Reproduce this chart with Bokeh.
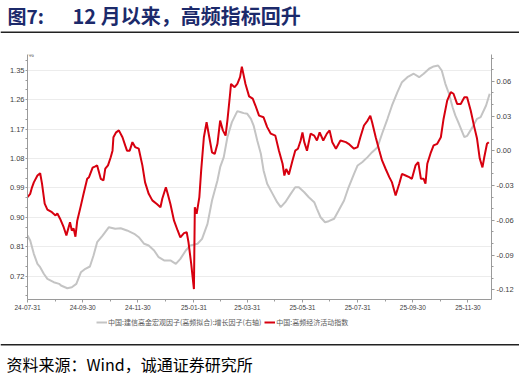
import pandas as pd
from bokeh.plotting import figure
from bokeh.layouts import column
from bokeh.models import (Range1d, LinearAxis, FixedTicker, NumeralTickFormatter,
                          DatetimeTickFormatter, Legend, LegendItem, Label, Span)
from bokeh.embed import file_html
from bokeh.resources import INLINE

# ---------------- data ----------------
start_date = "2024-07-31"          # day 0 of the series
x_end_date = "2025-12-26"

x_tick_dates = ["2024-07-31", "2024-09-30", "2024-11-30", "2025-01-31", "2025-03-31",
                "2025-05-31", "2025-07-31", "2025-09-30", "2025-11-30"]
x_minor_dates = ["2024-08-31", "2024-10-31", "2024-12-31", "2025-03-01", "2025-04-30",
                 "2025-06-30", "2025-08-31", "2025-10-31"]

left_ticks = [0.72, 0.81, 0.90, 0.99, 1.08, 1.17, 1.26, 1.35]
left_minor = [0.66, 0.69, 0.75, 0.78, 0.84, 0.87, 0.93, 0.96, 1.02, 1.05, 1.11, 1.14,
              1.20, 1.23, 1.29, 1.32, 1.38]
right_ticks = [-0.12, -0.09, -0.06, -0.03, 0.00, 0.03, 0.06]
right_minor = [-0.13, -0.11, -0.10, -0.08, -0.07, -0.05, -0.04, -0.02, -0.01,
               0.01, 0.02, 0.04, 0.05, 0.07, 0.08]

red_name = "中国:高频经济活动指数"
gray_name = "中国:建信高金宏观因子(高频拟合):增长因子(右轴)"

# days since start_date
red_days = [0, 3, 5, 7, 11, 14, 16, 19, 22, 27,
            31, 33, 36, 40, 43, 47, 49, 51, 53, 55,
            59, 62, 66, 68, 72, 75, 77, 81, 84, 86,
            89, 92, 94, 95, 98, 101, 105, 108, 110, 113,
            116, 119, 123, 127, 130, 134, 138, 143, 147, 149,
            153, 155, 158, 162, 166, 169, 173, 176, 178, 181,
            184, 185, 187, 190, 192, 195, 198, 201, 204, 207,
            210, 213, 216, 219, 221, 224, 225, 229, 232, 235,
            237, 241, 245, 249, 252, 256, 261, 265, 269, 274,
            278, 282, 284, 286, 289, 293, 296, 299, 302, 304,
            306, 309, 313, 317, 320, 323, 327, 331, 334, 337,
            341, 346, 352, 355, 361, 365, 368, 372, 376, 379,
            381, 385, 389, 392, 396, 400, 403, 407, 411, 414,
            418, 422, 425, 429, 432, 435, 438, 440, 442, 446,
            449, 453, 457, 460, 464, 468, 471, 475, 479, 483,
            486, 490, 494, 497, 500, 503, 505, 508, 510]
red_vals = [0.962, 0.972, 0.992, 1.007, 1.028, 1.035, 1.004, 0.942, 0.924, 0.916,
            0.906, 0.912, 0.896, 0.870, 0.845, 0.885, 0.860, 0.866, 0.841, 0.890,
            0.936, 0.972, 1.018, 1.023, 1.052, 1.056, 1.059, 1.018, 1.013, 1.049,
            1.059, 1.084, 1.104, 1.145, 1.160, 1.166, 1.145, 1.120, 1.104, 1.104,
            1.130, 1.115, 1.110, 1.059, 1.007, 0.972, 0.952, 0.941, 0.931, 0.957,
            0.992, 0.972, 0.941, 0.890, 0.860, 0.839, 0.852, 0.855, 0.824, 0.758,
            0.681, 0.931, 0.911, 0.962, 1.043, 1.145, 1.191, 1.145, 1.099, 1.094,
            1.125, 1.196, 1.166, 1.150, 1.196, 1.278, 1.308, 1.298, 1.308, 1.329,
            1.361, 1.308, 1.270, 1.263, 1.242, 1.211, 1.206, 1.176, 1.156, 1.150,
            1.104, 1.064, 1.028, 1.048, 1.031, 1.074, 1.104, 1.110, 1.135, 1.160,
            1.130, 1.104, 1.156, 1.150, 1.135, 1.160, 1.135, 1.156, 1.166, 1.130,
            1.110, 1.135, 1.130, 1.125, 1.110, 1.115, 1.145, 1.181, 1.196, 1.211,
            1.191, 1.145, 1.104, 1.074, 1.048, 1.023, 1.007, 0.967, 1.003, 1.033,
            1.028, 1.023, 1.018, 1.059, 1.069, 1.018, 1.018, 1.003, 1.064, 1.099,
            1.120, 1.125, 1.145, 1.201, 1.257, 1.283, 1.278, 1.247, 1.247, 1.267,
            1.267, 1.227, 1.176, 1.141, 1.080, 1.053, 1.084, 1.125, 1.130]

gray_days = [0, 3, 7, 11, 14, 18, 22, 29, 35, 37,
             44, 49, 54, 59, 64, 69, 73, 77, 83, 90,
             97, 103, 110, 118, 123, 129, 134, 140, 145, 151,
             158, 164, 169, 175, 180, 188, 193, 199, 204, 210,
             213, 217, 221, 226, 232, 236, 239, 243, 247, 250,
             254, 258, 261, 265, 271, 276, 280, 285, 291, 296,
             300, 306, 311, 317, 320, 324, 329, 333, 339, 344,
             350, 355, 361, 365, 370, 376, 381, 387, 392, 398,
             403, 409, 414, 420, 427, 433, 438, 444, 449, 454,
             458, 462, 466, 470, 473, 477, 483, 486, 492, 497,
             501, 507, 511]
gray_vals = [-0.0732, -0.0775, -0.0890, -0.0976, -0.1005, -0.1062, -0.1106, -0.1135, -0.1149, -0.1163,
             -0.1187, -0.1178, -0.1149, -0.1049, -0.1019, -0.0999, -0.0904, -0.0789, -0.0732, -0.0660,
             -0.0674, -0.0669, -0.0688, -0.0717, -0.0746, -0.0803, -0.0818, -0.0861, -0.0919, -0.0947,
             -0.0947, -0.0976, -0.0933, -0.0861, -0.0818, -0.0803, -0.0760, -0.0631, -0.0429, -0.0257,
             -0.0142, -0.0055, 0.0117, 0.0247, 0.0342, 0.0333, 0.0325, 0.0319, 0.0276, 0.0218,
             0.0089, -0.0026, -0.0170, -0.0285, -0.0372, -0.0444, -0.0487, -0.0444, -0.0372, -0.0315,
             -0.0315, -0.0358, -0.0401, -0.0444, -0.0501, -0.0574, -0.0617, -0.0608, -0.0587, -0.0516,
             -0.0429, -0.0315, -0.0199, -0.0127, -0.0099, -0.0055, -0.0012, 0.0031, 0.0147, 0.0276,
             0.0391, 0.0506, 0.0592, 0.0635, 0.0665, 0.0635, 0.0665, 0.0708, 0.0728, 0.0736,
             0.0693, 0.0578, 0.0492, 0.0376, 0.0305, 0.0233, 0.0117, 0.0128, 0.0204, 0.0276,
             0.0290, 0.0391, 0.0492]

left_range = (0.649, 1.398)
right_range = (-0.1284, 0.0831)

# ---------------- helpers ----------------
EPOCH = pd.Timestamp("1970-01-01")
NAN = float("nan")


def ms(ts):
    return (pd.Timestamp(ts) - EPOCH) / pd.Timedelta(milliseconds=1)


start = pd.Timestamp(start_date)
red_x = [ms(start + pd.Timedelta(days=d)) for d in red_days]
gray_x = [ms(start + pd.Timedelta(days=d)) for d in gray_days]

LABEL_FONT = "Liberation Sans"
CJK = "Noto Sans CJK SC"
AXIS_COLOR = "#9a9a9a"
TICK_TEXT = "#404040"
RED = "#d7000f"
GRAY = "#c4c4c4"
W = 519


def blank_fig(h):
    f = figure(width=W, height=h, x_range=Range1d(0, W), y_range=Range1d(0, h),
               toolbar_location=None, output_backend="svg", min_border=0,
               outline_line_color=None, x_axis_type=None, y_axis_type=None,
               frame_align=False)
    return f


# ---------------- title ----------------
TH = 38
t = blank_fig(TH)
title_color = "#1c2a6b"
t.add_layout(Label(x=7, y=TH - 15, text="图7:", text_font=CJK, text_font_size="19px",
                   text_font_style="bold", text_color=title_color, text_baseline="middle"))
t.add_layout(Label(x=72, y=TH - 15, text="12 月以来，高频指标回升", text_font=CJK,
                   text_font_size="20px", text_font_style="bold", text_color=title_color,
                   text_baseline="middle"))
t.add_layout(Span(location=TH - 31.7, dimension="width", line_color="#222222", line_width=1.5))

# ---------------- main chart ----------------
p = figure(width=W, height=277, output_backend="svg", toolbar_location=None,
           x_axis_type="datetime",
           x_range=Range1d(ms(start_date), ms(x_end_date)),
           y_range=Range1d(*left_range),
           min_border_left=27, min_border_right=28, min_border_top=16, min_border_bottom=16,
           outline_line_color=None, frame_align=False)
p.extra_y_ranges = {"r": Range1d(*right_range)}

# x axis
xa = p.xaxis[0]
xa.ticker = FixedTicker(ticks=[ms(d) for d in x_tick_dates],
                        minor_ticks=[ms(d) for d in x_minor_dates])
fmt = "%y-%m-%d"
xa.formatter = DatetimeTickFormatter(microseconds=fmt, milliseconds=fmt, seconds=fmt,
                                     minsec=fmt, minutes=fmt, hourmin=fmt, hours=fmt,
                                     days=fmt, months=fmt, years=fmt)
xa.major_label_text_font_size = "6.5px"

# left axis
ya = p.yaxis[0]
ya.ticker = FixedTicker(ticks=left_ticks, minor_ticks=left_minor)
ya.formatter = NumeralTickFormatter(format="0.00")
ya.major_label_text_font_size = "7.5px"

# right axis
ra = LinearAxis(y_range_name="r", ticker=FixedTicker(ticks=right_ticks, minor_ticks=right_minor),
                formatter=NumeralTickFormatter(format="0.00"))
ra.major_label_text_font_size = "7.5px"
p.add_layout(ra, "right")

for ax in (xa, ya, ra):
    ax.axis_line_color = AXIS_COLOR
    ax.major_tick_line_color = AXIS_COLOR
    ax.minor_tick_line_color = AXIS_COLOR
    ax.major_tick_out = 3
    ax.major_tick_in = 0
    ax.minor_tick_out = 2
    ax.minor_tick_in = 0
    ax.major_label_standoff = 2
    ax.major_label_text_color = TICK_TEXT
    ax.major_label_text_font = LABEL_FONT
ya.major_label_standoff = 1
ya.major_tick_out = 2

p.xgrid.visible = False
p.ygrid.grid_line_color = "#ececec"
p.ygrid.grid_line_width = 1

p.add_layout(Label(x=ms(start_date), y=left_range[1], x_offset=1, text="%",
                   text_font=LABEL_FONT, text_font_size="6px", text_color=TICK_TEXT,
                   text_baseline="middle"))

p.line(gray_x, gray_vals, y_range_name="r", line_color=GRAY, line_width=2)
p.line(red_x, red_vals, line_color=RED, line_width=2)

# ---------------- legend strip ----------------
LH = 28
lg = blank_fig(LH)
# placeholder renderers (one NaN point each, nothing is drawn) for the legend swatches
lg_gray = lg.line(x=[NAN], y=[NAN], line_color=GRAY, line_width=2)
lg_red = lg.line(x=[NAN], y=[NAN], line_color=RED, line_width=2)
legend = Legend(items=[LegendItem(label=gray_name, renderers=[lg_gray]),
                       LegendItem(label=red_name, renderers=[lg_red])],
                location=(96, 16), orientation="horizontal",
                label_text_font=CJK, label_text_font_size="7px", label_text_color="#595959",
                glyph_width=11, glyph_height=8, label_height=8, label_standoff=1,
                spacing=3, padding=0, margin=0, border_line_color=None,
                background_fill_alpha=0)
lg.add_layout(legend)

# ---------------- source ----------------
SH = 32
s = blank_fig(SH)
s.add_layout(Span(location=SH - 1.2, dimension="width", line_color="#222222", line_width=1.5))
s.add_layout(Label(x=6, y=SH - 20, text="资料来源：Wind，诚通证券研究所", text_font=CJK,
                   text_font_size="16px", text_color="#000000", text_baseline="middle"))

layout = column(t, p, lg, s, spacing=0)
open("out.html", "w").write(file_html(layout, INLINE))
